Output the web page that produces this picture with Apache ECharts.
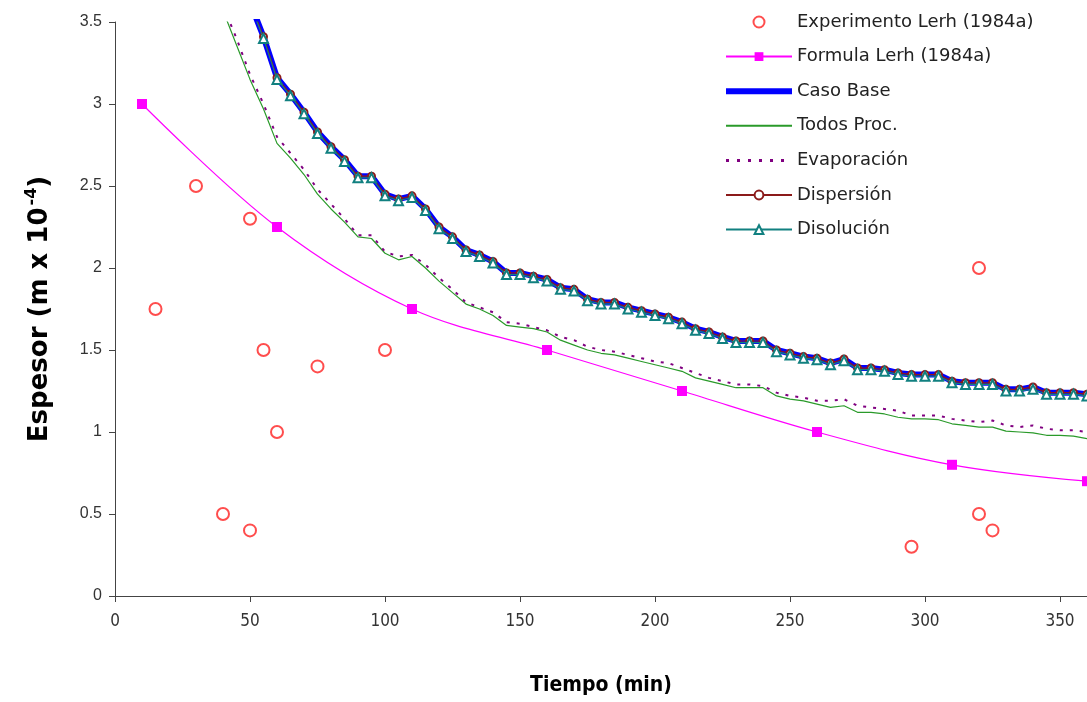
<!DOCTYPE html>
<html>
<head>
<meta charset="utf-8">
<script src="https://cdn.jsdelivr.net/npm/echarts@6/dist/echarts.min.js"></script>
<style>
html,body{margin:0;padding:0;background:#fff;}
#chart{width:1087px;height:702px;}
</style>
</head>
<body>
<div id="chart"></div>
<script>
// ---- data ----
var xTicks = [0, 50, 100, 150, 200, 250, 300, 350];
var yTicks = [0, 0.5, 1, 1.5, 2, 2.5, 3, 3.5];

var expT = [15, 30, 40, 50, 50, 55, 60, 75, 100, 295, 320, 320, 325];
var expV = [1.75, 2.5, 0.5, 2.3, 0.4, 1.5, 1.0, 1.4, 1.5, 0.3, 2.0, 0.5, 0.4];

var formT = [10, 60, 110, 160, 210, 260, 310, 360];
var formV = [3.0, 2.25, 1.75, 1.5, 1.25, 1.0, 0.8, 0.7];

var baseT = [50,55,60,65,70,75,80,85,90,95,100,105,110,115,120,125,130,135,140,145,150,155,160,165,170,175,180,185,190,195,200,205,210,215,220,225,230,235,240,245,250,255,260,265,270,275,280,285,290,295,300,305,310,315,320,325,330,335,340,345,350,355,360];
var casoBase = [3.62,3.41,3.16,3.06,2.95,2.83,2.74,2.66,2.56,2.56,2.45,2.42,2.44,2.36,2.25,2.19,2.11,2.08,2.04,1.97,1.97,1.95,1.93,1.88,1.87,1.81,1.79,1.79,1.76,1.74,1.72,1.70,1.67,1.63,1.61,1.58,1.555,1.555,1.555,1.50,1.48,1.46,1.45,1.42,1.445,1.39,1.39,1.38,1.36,1.35,1.35,1.35,1.31,1.30,1.30,1.30,1.26,1.26,1.275,1.24,1.24,1.24,1.23];
var dispersion = [3.62,3.41,3.16,3.06,2.95,2.83,2.74,2.66,2.56,2.56,2.45,2.42,2.44,2.36,2.25,2.19,2.11,2.08,2.04,1.97,1.97,1.95,1.93,1.88,1.87,1.81,1.79,1.79,1.76,1.74,1.72,1.70,1.67,1.63,1.61,1.58,1.555,1.555,1.555,1.50,1.48,1.46,1.45,1.42,1.445,1.39,1.39,1.38,1.36,1.35,1.35,1.35,1.31,1.30,1.30,1.30,1.26,1.26,1.275,1.24,1.24,1.24,1.23];
var disolucion = [3.61,3.40,3.15,3.05,2.94,2.82,2.73,2.65,2.55,2.55,2.44,2.41,2.43,2.35,2.24,2.18,2.10,2.07,2.03,1.96,1.96,1.94,1.92,1.87,1.86,1.80,1.78,1.78,1.75,1.73,1.71,1.69,1.66,1.62,1.60,1.57,1.545,1.545,1.545,1.49,1.47,1.45,1.44,1.41,1.435,1.38,1.38,1.37,1.35,1.34,1.34,1.34,1.30,1.29,1.29,1.29,1.25,1.25,1.26,1.23,1.23,1.23,1.22];

var lowT = [40,45,50,55,60,65,70,75,80,85,90,95,100,105,110,115,120,125,130,135,140,145,150,155,160,165,170,175,180,185,190,195,200,205,210,215,220,225,230,235,240,245,250,255,260,265,270,275,280,285,290,295,300,305,310,315,320,325,330,335,340,345,350,355,360];
var todosProc = [3.57,3.36,3.15,2.97,2.76,2.67,2.57,2.45,2.36,2.28,2.19,2.18,2.09,2.05,2.07,2.00,1.92,1.85,1.78,1.75,1.71,1.65,1.64,1.63,1.61,1.56,1.53,1.50,1.48,1.47,1.45,1.43,1.41,1.39,1.37,1.33,1.31,1.29,1.27,1.27,1.27,1.22,1.20,1.19,1.17,1.15,1.16,1.12,1.12,1.11,1.09,1.08,1.08,1.075,1.05,1.04,1.03,1.03,1.005,1.00,0.995,0.98,0.98,0.975,0.96];
var evaporacion = [3.60,3.40,3.18,3.00,2.80,2.70,2.60,2.48,2.39,2.30,2.20,2.20,2.10,2.07,2.08,2.02,1.94,1.87,1.79,1.76,1.73,1.67,1.66,1.64,1.62,1.58,1.56,1.52,1.50,1.49,1.47,1.45,1.43,1.42,1.39,1.36,1.33,1.31,1.29,1.29,1.28,1.24,1.22,1.21,1.19,1.19,1.20,1.16,1.15,1.14,1.13,1.10,1.10,1.10,1.08,1.07,1.06,1.07,1.04,1.03,1.04,1.02,1.01,1.01,1.00];

function pairs(t, v) { return t.map(function (x, i) { return [x, v[i]]; }); }

var FONT = '"Liberation Sans", Arial, sans-serif';
var WIDE = '"DejaVu Sans", Verdana, sans-serif';
var NARROW = '"Liberation Sans Narrow", "DejaVu Sans Condensed", "Liberation Sans", sans-serif';
var HIDE = {color: 'rgba(0,0,0,0)', borderColor: 'rgba(0,0,0,0)', borderWidth: 0, opacity: 0};

var chart = echarts.init(document.getElementById('chart'), null, {renderer: 'canvas'});
chart.setOption({
  animation: false,
  backgroundColor: '#ffffff',
  grid: {left: 115, right: 0, top: 22, bottom: 106, containLabel: false, outerBoundsMode: 'none'},
  legend: {
    orient: 'vertical',
    left: 718,
    top: 7,
    itemWidth: 66,
    itemHeight: 11,
    itemGap: 14.6,
    itemTextGap: 7,
    textStyle: {fontSize: 18, lineHeight: 20, color: '#222', fontFamily: WIDE},
    data: [
      {name: 'Experimento Lerh (1984a)'},
      {name: 'Formula Lerh (1984a)'},
      {name: 'Caso Base', itemStyle: HIDE, lineStyle: {width: 6}},
      {name: 'Todos Proc.', itemStyle: HIDE},
      {name: 'Evaporación', itemStyle: HIDE, lineStyle: {width: 3, type: [3, 8]}},
      {name: 'Dispersión'},
      {name: 'Disolución'}
    ]
  },
  xAxis: {
    type: 'value',
    min: 0, max: 360, interval: 50,
    name: 'Tiempo (min)',
    nameLocation: 'middle',
    nameGap: 79,
    nameTextStyle: {fontSize: 21, fontWeight: 'bold', color: '#000', fontFamily: NARROW},
    axisLine: {lineStyle: {color: '#444', width: 1}},
    axisTick: {show: true, length: 6, lineStyle: {color: '#444'}},
    axisLabel: {fontSize: 17, color: '#333', margin: 17, fontFamily: NARROW, showMaxLabel: false},
    splitLine: {show: false}
  },
  yAxis: {
    type: 'value',
    min: 0, max: 3.5, interval: 0.5,
    name: '{a|Espesor (m x 10}{s|-4}{a|)}',
    nameLocation: 'middle',
    nameGap: 58,
    nameTextStyle: {
      rich: {
        a: {fontSize: 26, fontWeight: 'bold', color: '#000', fontFamily: WIDE},
        s: {fontSize: 16, fontWeight: 'bold', color: '#000', fontFamily: WIDE, padding: [0, 0, 17, 2]}
      }
    },
    axisLine: {show: true, lineStyle: {color: '#444', width: 1}},
    axisTick: {show: true, length: 6, lineStyle: {color: '#444'}},
    axisLabel: {fontSize: 16, color: '#333', margin: 13, fontFamily: FONT},
    splitLine: {show: false}
  },
  series: [
    {
      name: 'Experimento Lerh (1984a)', type: 'scatter',
      data: pairs(expT, expV),
      symbol: 'emptyCircle', symbolSize: 12,
      itemStyle: {color: '#ff2020', borderColor: '#ff2020', borderWidth: 1.2},
      z: 3
    },
    {
      name: 'Formula Lerh (1984a)', type: 'line',
      data: pairs(formT, formV),
      smooth: 0.35,
      symbol: 'rect', symbolSize: 10,
      itemStyle: {color: '#ff00ff'},
      lineStyle: {color: '#ff00ff', width: 1.2},
      z: 3
    },
    {
      name: 'Caso Base', type: 'line',
      data: pairs(baseT, casoBase),
      showSymbol: false, symbol: 'none',
      lineStyle: {color: '#0000ff', width: 6},
      itemStyle: {color: '#0000ff'},
      z: 4
    },
    {
      name: 'Todos Proc.', type: 'line',
      data: pairs(lowT, todosProc),
      symbol: 'none',
      lineStyle: {color: '#2a9a2a', width: 1.2},
      itemStyle: {color: '#2a9a2a'},
      z: 4
    },
    {
      name: 'Evaporación', type: 'line',
      data: pairs(lowT, evaporacion),
      symbol: 'none',
      lineStyle: {color: '#800080', width: 2, type: [3, 7]},
      itemStyle: {color: '#800080'},
      z: 5
    },
    {
      name: 'Dispersión', type: 'line',
      data: pairs(baseT, dispersion),
      symbol: 'emptyCircle', symbolSize: 7,
      lineStyle: {color: '#8b1a1a', width: 1.2},
      itemStyle: {color: '#8b1a1a', borderColor: '#8b1a1a', borderWidth: 1},
      z: 6
    },
    {
      name: 'Disolución', type: 'line',
      data: pairs(baseT, disolucion),
      symbol: 'emptyTriangle', symbolSize: 9,
      lineStyle: {color: '#118080', width: 1.2},
      itemStyle: {color: '#118080', borderColor: '#118080', borderWidth: 1},
      z: 7
    }
  ]
});
</script>
</body>
</html>
